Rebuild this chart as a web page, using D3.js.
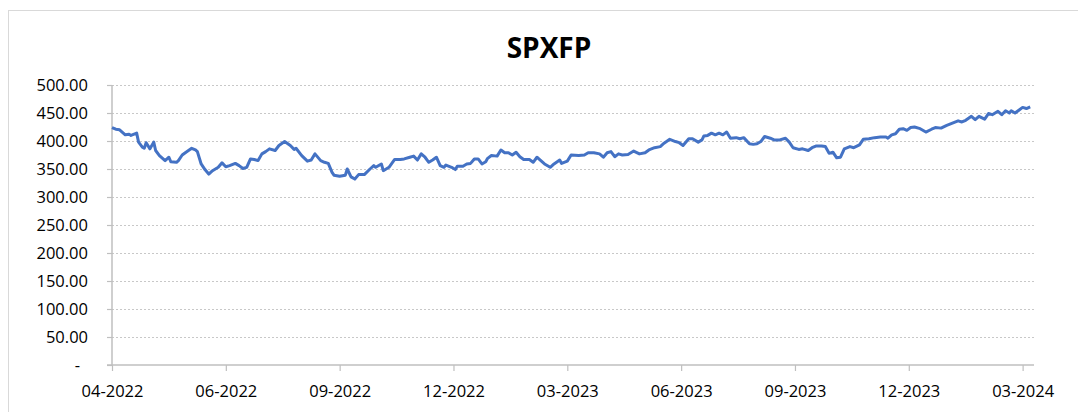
<!DOCTYPE html>
<html lang="en">

<head>
    <meta charset="UTF-8">
    <title>SPXFP</title>
    <script src="https://d3js.org/d3.v7.min.js"></script>
    <style type="text/css">
        body {
            margin: 0;
            background: #fff;
        }

        text {
            font-family: "Open Sans", "Noto Sans", sans-serif;
            fill: #000;
        }
    </style>
</head>

<body>
    <div id="chartArea"></div>
    <script type="text/javascript">
        // trading day number (from start of series) and index level
        var days = [0, 2, 4, 7, 9, 10, 13, 14, 16, 17, 18, 20, 22, 23, 25, 28, 30, 31, 34, 35, 37, 39, 42, 44, 45, 47, 49, 51, 53, 56, 58, 60, 62, 65, 67, 69, 71, 73, 75, 77, 79, 81, 83, 86, 88, 91, 94, 96,
            97, 100, 103, 105, 107, 110, 112, 114, 116, 117, 120, 123, 124, 126, 128, 130, 133, 136, 138, 139, 142, 143, 146, 149, 152, 154, 157, 159, 161, 163, 165, 167, 169, 171, 173, 175, 176, 179, 181, 182, 185, 187, 189, 191, 193, 195, 197,
            198, 200, 203, 205, 207, 209, 211, 213, 215, 217, 220, 222, 224, 225, 228, 231, 233, 236, 237, 240, 242, 246, 249, 251, 254, 257, 259, 261, 263, 265, 267, 269, 272, 275, 278, 281, 283, 286, 289, 291, 294, 297,
            299, 301, 304, 306, 309, 311, 312, 314, 316, 318, 320, 322, 324, 326, 329, 331, 333, 336, 338, 340, 342, 344, 347, 349, 352, 355, 357, 359, 362, 364, 367, 369, 371, 374, 376, 378, 380, 382, 384, 386, 389, 391, 394, 396,
            399, 402, 405, 408, 409, 411, 413, 415, 417, 419, 421, 423, 426, 429, 432, 434, 437, 440, 443, 446, 448, 450, 453, 455, 457, 460, 462, 464, 467, 469, 471, 473, 474, 476, 478, 480, 482, 484];
        var values = [424, 421, 420, 411, 412, 410, 414, 398, 389, 387, 397, 386, 398, 383, 374, 365, 371, 363, 362, 365, 375, 380, 387, 384, 381, 359, 349, 341, 347, 353, 361, 354, 356, 360, 356, 351, 353, 368, 367, 365, 377, 381, 386, 383, 392, 399, 392, 385,
            387, 374, 364, 366, 377, 365, 362, 360, 344, 339, 337, 339, 350, 336, 332, 340, 340, 350, 356, 353, 359, 347, 353, 367, 367, 368, 371, 373, 366, 377, 371, 362, 366, 371, 356, 353, 357, 353, 349, 355, 355, 359, 360, 368, 368, 359, 363,
            369, 374, 373, 384, 379, 379, 375, 380, 372, 367, 367, 362, 371, 368, 359, 353, 359, 366, 360, 364, 375, 374, 375, 379, 379, 377, 371, 379, 381, 372, 377, 375, 376, 382, 377, 379, 384, 388, 390, 396, 403, 399,
            397, 392, 404, 404, 398, 402, 409, 410, 414, 411, 414, 411, 416, 405, 406, 404, 406, 395, 394, 395, 399, 408, 405, 402, 402, 405, 398, 388, 385, 386, 383, 388, 391, 391, 390, 378, 380, 370, 371, 386, 390, 388, 393, 403,
            404, 406, 407, 407, 405, 411, 413, 421, 422, 419, 424, 425, 422, 416, 421, 424, 423, 428, 432, 436, 434, 437, 444, 438, 444, 439, 449, 447, 453, 447, 454, 450, 454, 450, 455, 460, 458, 461];
        var tickDays = [0, 60, 120, 180, 240, 300, 360, 420, 480];
        var tickLabels = ['04-2022', '06-2022', '09-2022', '12-2022', '03-2023', '06-2023', '09-2023', '12-2023', '03-2024'];
        var yTicks = [0, 50, 100, 150, 200, 250, 300, 350, 400, 450, 500];

        var w = 1078, h = 412;
        var plotLeft = 112, plotRight = 1034, plotTop = 85, plotBottom = 365;

        var svg = d3.select('#chartArea').append('svg')
            .attr('width', w)
            .attr('height', h);

        // chart border
        svg.append('rect')
            .attr('x', 8.5).attr('y', 10.5)
            .attr('width', 1100).attr('height', 500)
            .attr('fill', 'none')
            .attr('stroke', '#d9d9d9')
            .attr('stroke-width', 1);

        svg.append('text')
            .attr('x', 549).attr('y', 58)
            .attr('text-anchor', 'middle')
            .style('font-size', '28px')
            .style('font-weight', 'bold')
            .text('SPXFP');

        var xScale = d3.scaleLinear()
            .domain([0, 486])
            .range([plotLeft, plotRight]);

        var yScale = d3.scaleLinear()
            .domain([0, 500])
            .range([plotBottom, plotTop]);

        // dotted gridlines
        svg.append('g')
            .selectAll('line')
            .data(yTicks.filter(function (d) { return d > 0; }))
            .enter()
            .append('line')
            .attr('x1', plotLeft).attr('x2', plotRight)
            .attr('y1', function (d) { return Math.round(yScale(d)) + 0.5; })
            .attr('y2', function (d) { return Math.round(yScale(d)) + 0.5; })
            .attr('stroke', '#c8c8c8')
            .attr('stroke-dasharray', '2,2');

        // y axis
        var yAxis = d3.axisLeft(yScale)
            .tickValues(yTicks)
            .tickSize(5)
            .tickPadding(19)
            .tickFormat(function (d) { return d === 0 ? '-' : d3.format('.2f')(d); });

        var gy = svg.append('g')
            .attr('transform', 'translate(' + plotLeft + ',0)')
            .call(yAxis);
        gy.select('.domain').remove();
        gy.append('line')
            .attr('x1', 0).attr('x2', 0)
            .attr('y1', plotTop).attr('y2', plotBottom)
            .attr('stroke', '#bfbfbf')
            .attr('stroke-width', 1.5);
        gy.selectAll('.tick line').attr('stroke', '#bfbfbf').attr('stroke-width', 1.2);
        gy.selectAll('.tick text')
            .style('font-size', '16.5px')
            .attr('fill', '#000')
            .attr('dx', function (d) { return d === 0 ? -8 : 0; });

        // x axis
        var xAxis = d3.axisBottom(xScale)
            .tickValues(tickDays)
            .tickSize(6)
            .tickPadding(14)
            .tickFormat(function (d, i) { return tickLabels[i]; });

        var gx = svg.append('g')
            .attr('transform', 'translate(0,' + plotBottom + ')')
            .call(xAxis);
        gx.select('.domain').remove();
        gx.append('line')
            .attr('x1', plotLeft - 5).attr('x2', plotRight)
            .attr('y1', 0).attr('y2', 0)
            .attr('stroke', '#bfbfbf')
            .attr('stroke-width', 1.5);
        gx.selectAll('.tick line').attr('stroke', '#bfbfbf').attr('stroke-width', 1.2);
        gx.selectAll('.tick text')
            .style('font-size', '16.5px')
            .attr('fill', '#000');

        var line = d3.line()
            .x(function (d, i) { return xScale(days[i]); })
            .y(function (d) { return yScale(d); });

        svg.append('path')
            .datum(values)
            .attr('d', line)
            .attr('fill', 'none')
            .attr('stroke', '#4472c4')
            .attr('stroke-width', 3)
            .attr('stroke-linejoin', 'round');
    </script>
</body>

</html>
